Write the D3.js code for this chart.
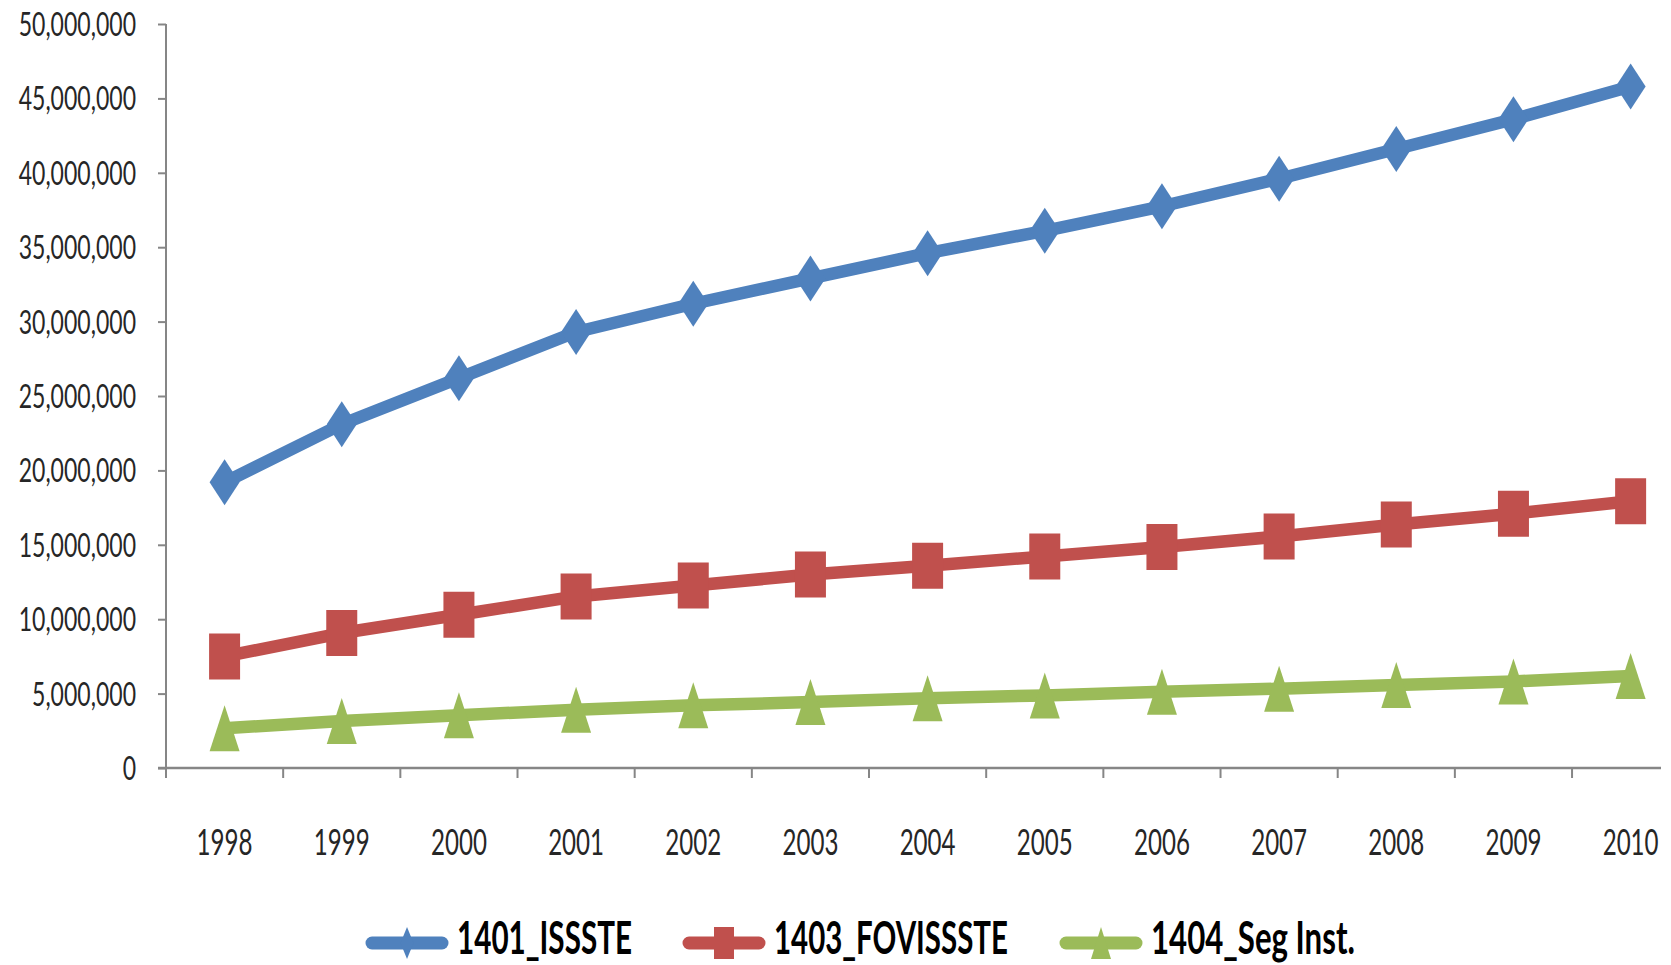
<!DOCTYPE html>
<html>
<head>
<meta charset="utf-8">
<script src="https://cdn.jsdelivr.net/npm/d3@7"></script>
<style>
  html, body { margin: 0; padding: 0; background: #ffffff; }
  svg { display: block; }
</style>
</head>
<body>
<svg id="chart" width="1671" height="965"></svg>
<script>
// ---- data ----
const years = ["1998","1999","2000","2001","2002","2003","2004","2005","2006","2007","2008","2009","2010"];
const seriesNames = ["1401_ISSSTE", "1403_FOVISSSTE", "1404_Seg Inst."];
const issste    = [19200000, 23100000, 26200000, 29300000, 31200000, 32900000, 34600000, 36100000, 37750000, 39600000, 41600000, 43600000, 45800000];
const fovissste = [7500000, 9070000, 10300000, 11530000, 12270000, 13000000, 13590000, 14220000, 14850000, 15560000, 16370000, 17090000, 17930000];
const segInst   = [2670000, 3160000, 3540000, 3920000, 4210000, 4430000, 4680000, 4880000, 5130000, 5330000, 5580000, 5820000, 6180000];
const yTicks    = [0, 5000000, 10000000, 15000000, 20000000, 25000000, 30000000, 35000000, 40000000, 45000000, 50000000];

// ---- layout / style ----
const colors  = ["#4F81BD", "#C0504D", "#9BBB59"];
const markers = ["diamond", "square", "triangle"];
const axisColor = "#868686";
const plotLeft = 166, plotBottom = 768, plotTop = 24;
const bandW = 117.17;
const axisRightEnd = 1661;

const svg = d3.select("#chart");

const x = d3.scaleBand().domain(years).range([plotLeft, plotLeft + bandW * years.length]).paddingInner(0).paddingOuter(0);
const y = d3.scaleLinear().domain([0, 50000000]).range([plotBottom, plotTop]);
const cx = d => x(d) + x.bandwidth() / 2;

// ---- y axis ----
const yAxis = svg.append("g")
  .attr("transform", `translate(${plotLeft},0)`)
  .call(d3.axisLeft(y).tickValues(yTicks).tickFormat(d3.format(",")).tickSize(8).tickSizeOuter(0));
yAxis.select(".domain").attr("stroke", axisColor).attr("stroke-width", 2)
  .attr("d", `M0,${plotTop}V${plotBottom}`);
yAxis.selectAll(".tick line").attr("stroke", axisColor).attr("stroke-width", 2);
yAxis.selectAll(".tick text")
  .attr("x", null).attr("dy", "0.36em")
  .attr("transform", "translate(-30,0) scale(0.72,1)")
  .attr("fill", "#262626")
  .style("font-family", "Lato, 'Open Sans', sans-serif")
  .style("font-size", "32px");

// ---- x axis ----
const xAxis = svg.append("g")
  .attr("transform", `translate(0,${plotBottom})`)
  .call(d3.axisBottom(x).tickSize(0).tickSizeOuter(0));
xAxis.select(".domain").remove();
xAxis.selectAll(".tick text")
  .attr("y", null).attr("dy", null)
  .attr("transform", "translate(0,87) scale(0.67,1)")
  .attr("fill", "#262626")
  .style("font-family", "Lato, 'Open Sans', sans-serif")
  .style("font-size", "36px");
svg.append("line")
  .attr("x1", plotLeft - 8).attr("x2", axisRightEnd)
  .attr("y1", plotBottom).attr("y2", plotBottom)
  .attr("stroke", axisColor).attr("stroke-width", 2.5);
svg.append("g").selectAll("line")
  .data(years)
  .join("line")
  .attr("x1", d => x(d)).attr("x2", d => x(d))
  .attr("y1", plotBottom).attr("y2", plotBottom + 10)
  .attr("stroke", axisColor).attr("stroke-width", 2);

// ---- marker shapes ----
function markerPath(type, w, h) {
  if (type === "diamond") return `M0,${-h/2}L${w/2},0L0,${h/2}L${-w/2},0Z`;
  if (type === "square") return `M${-w/2},${-h/2}H${w/2}V${h/2}H${-w/2}Z`;
  return `M0,${-h/2}L${w/2},${h/2}H${-w/2}Z`;
}

// ---- series ----
const allSeries = [issste, fovissste, segInst];
const line = d3.line().x((d, i) => cx(years[i])).y(d => y(d));

allSeries.forEach((vals, s) => {
  const g = svg.append("g");
  g.append("path")
    .datum(vals)
    .attr("d", line)
    .attr("fill", "none")
    .attr("stroke", colors[s])
    .attr("stroke-width", 12.5)
    .attr("stroke-linejoin", "round");
  const mw = markers[s] === "square" ? 31 : 30;
  g.selectAll("path.mk")
    .data(vals)
    .join("path")
    .attr("class", "mk")
    .attr("transform", (d, i) => `translate(${cx(years[i])},${y(d)})`)
    .attr("d", markerPath(markers[s], mw, 46))
    .attr("fill", colors[s]);
});

// ---- legend ----
const legendX = [366, 683, 1060];
const legendTextW = [175, 234, 204];
const legendY = 943;
seriesNames.forEach((name, s) => {
  const g = svg.append("g").attr("transform", `translate(${legendX[s]},${legendY})`);
  g.append("line")
    .attr("x1", 6).attr("x2", 76).attr("y1", 0).attr("y2", 0)
    .attr("stroke", colors[s]).attr("stroke-width", 13).attr("stroke-linecap", "round");
  g.append("path")
    .attr("transform", "translate(41,0)")
    .attr("d", markerPath(markers[s], markers[s] === "diamond" ? 13 : 20, 32))
    .attr("fill", colors[s]);
  const t = g.append("text")
    .attr("fill", "#000")
    .style("font-family", "Lato, 'Open Sans', sans-serif")
    .style("font-weight", "bold")
    .style("font-size", "46px")
    .text(name);
  const w = t.node().getComputedTextLength();
  t.attr("transform", `translate(91,11) scale(${legendTextW[s] / w},1)`);
});
</script>
</body>
</html>
